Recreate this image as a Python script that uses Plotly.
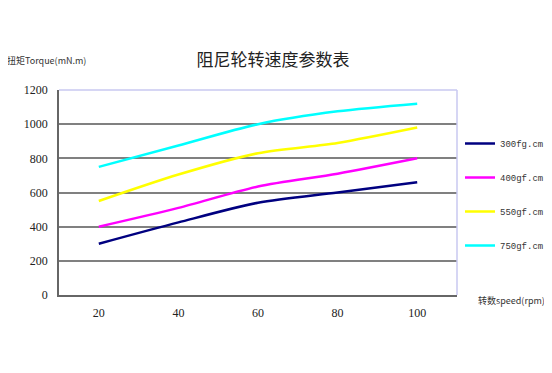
import plotly.graph_objects as go

speeds = ["20", "40", "60", "80", "100"]
s300 = [300, 425, 540, 600, 660]
s400 = [400, 510, 635, 710, 800]
s550 = [550, 705, 830, 890, 980]
s750 = [750, 875, 1000, 1075, 1120]
names = ["300fg.cm", "400gf.cm", "550gf.cm", "750gf.cm"]
colors = ["#000080", "#FF00FF", "#FFFF00", "#00FFFF"]
yticks = [0, 200, 400, 600, 800, 1000, 1200]

fig = go.Figure()
for i, (vals, nm, c) in enumerate(zip([s300, s400, s550, s750], names, colors)):
    fig.add_trace(go.Scatter(
        x=speeds, y=vals, name=nm, mode="lines",
        line=dict(color=c, width=2.5, shape="spline", smoothing=0.8),
        legendgroup=nm,
    ))

# page body has an 8px default margin; lay out in window coords and shift
OFF = 8
W, H = 552 - OFF, 373 - OFF
L, R, T, B = 59 - OFF, 95, 90 - OFF, 78
PW, PH = W - L - R, H - T - B

def px(x):
    return (x - OFF - L) / PW

def py(y):
    return (H - B - (y - OFF)) / PH

fig.update_layout(
    width=W, height=H,
    margin=dict(l=L, r=R, t=T, b=B, autoexpand=False),
    paper_bgcolor="white", plot_bgcolor="white",
    title=dict(text="阻尼轮转速度参数表", x=(273 - OFF) / W, xanchor="center",
               y=1 - (60 - OFF) / H, yanchor="middle",
               font=dict(family="Noto Sans CJK SC", size=17, color="#222")),
    showlegend=True,
    legend=dict(x=px(460), xanchor="left", y=py(129), yanchor="top",
                tracegroupgap=15, font=dict(family="Liberation Mono", size=9, color="#333"),
                itemwidth=30, bgcolor="rgba(0,0,0,0)"),
    xaxis=dict(type="category", range=[-0.5, 4.5], showgrid=False,
               showline=True, linecolor="#666", linewidth=1.5, mirror=False,
               ticks="outside", ticklen=6, tickcolor="rgba(0,0,0,0)",
               tickfont=dict(family="Liberation Serif", size=12, color="#222"),
               zeroline=False),
    yaxis=dict(range=[0, 1200], tickvals=yticks, showgrid=True, gridcolor="#808080",
               gridwidth=1.5, showline=True, linecolor="#666", linewidth=1.5,
               ticks="outside", ticklen=7, tickcolor="rgba(0,0,0,0)",
               tickfont=dict(family="Liberation Serif", size=12, color="#222"),
               zeroline=False),
    shapes=[
        dict(type="line", xref="paper", yref="paper", x0=0, x1=1, y0=1, y1=1,
             line=dict(color="#c8c8f0", width=1.5)),
        dict(type="line", xref="paper", yref="paper", x0=1, x1=1, y0=0, y1=1,
             line=dict(color="#c8c8f0", width=1.5)),
    ],
    annotations=[
        dict(text="扭矩Torque(mN.m)", xref="paper", yref="paper",
             x=px(5), xanchor="left", y=py(60), yanchor="middle",
             showarrow=False, font=dict(family="Noto Sans CJK SC", size=9, color="#333")),
        dict(text="转数speed(rpm)", xref="paper", yref="paper",
             x=px(476), xanchor="left", y=py(300), yanchor="middle",
             showarrow=False, font=dict(family="Noto Sans CJK SC", size=9, color="#333")),
    ],
)

fig.write_html("out.html")
